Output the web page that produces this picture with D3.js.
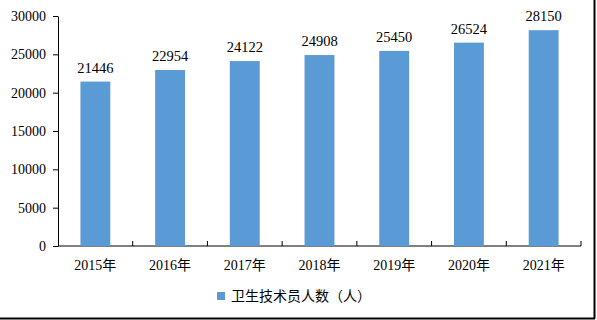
<!DOCTYPE html>
<html>
<head>
<meta charset="utf-8">
<script src="https://cdn.jsdelivr.net/npm/d3@7"></script>
<style>
  body { margin: 0; background: #fff; }
  svg { display: block; }
</style>
</head>
<body>
<div id="chart"></div>
<script>
// 数据
const years = ["2015年", "2016年", "2017年", "2018年", "2019年", "2020年", "2021年"];
const staff = [21446, 22954, 24122, 24908, 25450, 26524, 28150];
const yTicks = [0, 5000, 10000, 15000, 20000, 25000, 30000];
const seriesName = "卫生技术员人数（人）";

const W = 597, H = 320;
const margin = { top: 16, right: 16, bottom: 74, left: 58 };
const width = 581 - margin.left;
const height = 246 - margin.top;
const font = "'Liberation Serif', 'Noto Sans CJK SC', serif";

const svg = d3.select("#chart")
    .append("svg")
    .attr("width", W)
    .attr("height", H);

// 外框(右、下)
svg.append("line").attr("x1", 594.5).attr("x2", 594.5).attr("y1", 0).attr("y2", 318.5)
    .attr("stroke", "#000").attr("stroke-width", 2);
svg.append("line").attr("x1", 0).attr("x2", 595).attr("y1", 318.5).attr("y2", 318.5)
    .attr("stroke", "#000").attr("stroke-width", 2);

const g = svg.append("g")
    .attr("transform", "translate(" + margin.left + "," + margin.top + ")");

const x = d3.scaleBand()
    .domain(years)
    .range([0, width])
    .paddingInner(0.6)
    .paddingOuter(0.3);

const y = d3.scaleLinear()
    .domain([0, 30000])
    .range([height, 0]);

// y轴
const yAxis = g.append("g")
    .call(d3.axisLeft(y).tickValues(yTicks).tickFormat(d3.format("d"))
        .tickSize(5).tickSizeOuter(0).tickPadding(7));
yAxis.select(".domain").attr("stroke", "#000");
yAxis.selectAll("text")
    .style("font-family", font)
    .style("font-size", "14px")
    .attr("fill", "#000");

// x轴
const xAxis = g.append("g")
    .attr("transform", "translate(0," + height + ")");
xAxis.append("line")
    .attr("x1", 0).attr("x2", width)
    .attr("stroke", "#000");
xAxis.selectAll(".tick")
    .data(d3.range(1, years.length + 1))
    .enter()
    .append("line")
    .attr("x1", d => d * width / years.length)
    .attr("x2", d => d * width / years.length)
    .attr("y1", 0).attr("y2", -5)
    .attr("stroke", "#000");
xAxis.selectAll(".xlabel")
    .data(years)
    .enter()
    .append("text")
    .attr("x", d => x(d) + x.bandwidth() / 2)
    .attr("y", 24)
    .attr("text-anchor", "middle")
    .style("font-family", font)
    .style("font-size", "14px")
    .text(d => d);

// 柱子
const data = years.map((yr, i) => ({ year: yr, value: staff[i] }));
g.selectAll(".bar")
    .data(data)
    .enter()
    .append("rect")
    .attr("class", "bar")
    .attr("x", d => x(d.year))
    .attr("y", d => y(d.value))
    .attr("width", x.bandwidth())
    .attr("height", d => height - y(d.value))
    .attr("fill", "#5B9BD5");

g.selectAll(".bar-label")
    .data(data)
    .enter()
    .append("text")
    .attr("class", "bar-label")
    .attr("x", d => x(d.year) + x.bandwidth() / 2)
    .attr("y", d => y(d.value) - 9)
    .attr("text-anchor", "middle")
    .style("font-family", font)
    .style("font-size", "14.5px")
    .text(d => d.value);

// 图例
const legend = svg.append("g").attr("transform", "translate(217,292)");
legend.append("rect")
    .attr("width", 8).attr("height", 8)
    .attr("fill", "#5B9BD5");
legend.append("text")
    .attr("x", 14).attr("y", 9)
    .style("font-family", "'Noto Sans CJK SC', sans-serif")
    .style("font-size", "14px")
    .text(seriesName);
</script>
</body>
</html>
